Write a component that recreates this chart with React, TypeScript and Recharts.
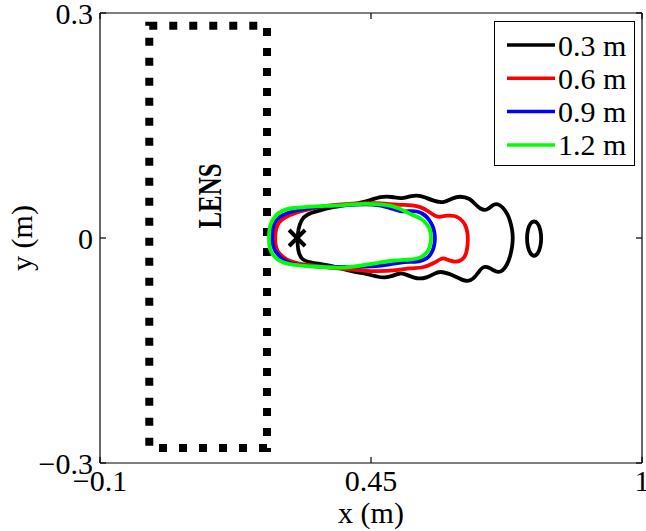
import React from 'react';
import {
  ComposedChart, Scatter, XAxis, YAxis, ReferenceArea,
} from 'recharts';

// ---- data ----
const xTicks = [-0.1, 0.45, 1];
const yTicks = [-0.3, 0, 0.3];
const xDomain = [-0.1, 1];
const yDomain = [-0.3, 0.3];

const seriesNames = ['0.3 m', '0.6 m', '0.9 m', '1.2 m'];

// 0.3 m contour (main loop)
const contour03 = [
  [0.301, 0], [0.302, 0.011], [0.308, 0.024], [0.320, 0.032], [0.342, 0.036], [0.371, 0.041],
  [0.403, 0.044], [0.438, 0.048], [0.472, 0.056], [0.493, 0.055], [0.512, 0.052], [0.529, 0.056],
  [0.549, 0.057], [0.564, 0.053], [0.576, 0.050], [0.596, 0.046], [0.614, 0.053], [0.631, 0.056],
  [0.651, 0.053], [0.663, 0.044], [0.671, 0.039], [0.685, 0.036], [0.698, 0.045], [0.706, 0.046],
  [0.718, 0.041], [0.727, 0.032], [0.732, 0.024], [0.737, 0.010], [0.738, 0],
  [0.737, -0.010], [0.733, -0.024], [0.726, -0.036], [0.717, -0.044], [0.708, -0.046], [0.698, -0.043],
  [0.692, -0.040], [0.677, -0.037], [0.667, -0.047], [0.657, -0.055], [0.646, -0.058], [0.635, -0.056],
  [0.620, -0.051], [0.610, -0.048], [0.590, -0.044], [0.577, -0.048], [0.564, -0.053], [0.543, -0.055],
  [0.523, -0.049], [0.509, -0.046], [0.493, -0.051], [0.478, -0.053], [0.464, -0.052], [0.438, -0.047],
  [0.411, -0.045], [0.383, -0.039], [0.351, -0.035], [0.322, -0.032], [0.310, -0.029], [0.303, -0.020],
  [0.301, -0.010],
];
// 0.3 m contour (small island on the right)
const contour03b = [
  [0.781, 0.023], [0.789, 0.020], [0.794, 0.011], [0.796, 0], [0.794, -0.012], [0.789, -0.021],
  [0.781, -0.025], [0.773, -0.021], [0.768, -0.012], [0.766, 0], [0.768, 0.011], [0.773, 0.020],
];
const contour06 = [
  [0.255, 0], [0.257, 0.013], [0.263, 0.021], [0.271, 0.026], [0.296, 0.034], [0.336, 0.040],
  [0.371, 0.044], [0.411, 0.046], [0.458, 0.047], [0.505, 0.044], [0.535, 0.044], [0.552, 0.041],
  [0.564, 0.037], [0.584, 0.027], [0.596, 0.029], [0.604, 0.030], [0.620, 0.030], [0.631, 0.026],
  [0.641, 0.019], [0.646, 0.008], [0.647, -0.002], [0.645, -0.018], [0.639, -0.027], [0.630, -0.031],
  [0.618, -0.032], [0.605, -0.029], [0.596, -0.026], [0.586, -0.030], [0.576, -0.034], [0.556, -0.040],
  [0.529, -0.040], [0.505, -0.043], [0.458, -0.045], [0.411, -0.042], [0.371, -0.040], [0.336, -0.037],
  [0.302, -0.034], [0.285, -0.031], [0.275, -0.027], [0.264, -0.021], [0.259, -0.016], [0.256, -0.008],
];
const contour09 = [
  [0.249, 0], [0.250, 0.012], [0.254, 0.021], [0.261, 0.027], [0.282, 0.035], [0.330, 0.041],
  [0.397, 0.044], [0.458, 0.046], [0.490, 0.040], [0.509, 0.035], [0.530, 0.036], [0.543, 0.036],
  [0.556, 0.032], [0.564, 0.028], [0.572, 0.020], [0.576, 0.015], [0.579, 0.007], [0.580, 0],
  [0.579, -0.008], [0.576, -0.016], [0.570, -0.023], [0.564, -0.027], [0.554, -0.030], [0.543, -0.032],
  [0.509, -0.032], [0.485, -0.036], [0.458, -0.038], [0.397, -0.039], [0.330, -0.038], [0.290, -0.035],
  [0.273, -0.030], [0.265, -0.025], [0.256, -0.018], [0.252, -0.012], [0.250, -0.006],
];
const contour12 = [
  [0.243, 0], [0.243, 0.006], [0.244, 0.013], [0.247, 0.020], [0.253, 0.027], [0.261, 0.033],
  [0.275, 0.038], [0.290, 0.040], [0.330, 0.042], [0.371, 0.043], [0.397, 0.044], [0.438, 0.046],
  [0.470, 0.045], [0.493, 0.043], [0.513, 0.038], [0.529, 0.032], [0.545, 0.028], [0.556, 0.024],
  [0.565, 0.017], [0.570, 0.011], [0.572, 0.003], [0.572, -0.003], [0.570, -0.010], [0.567, -0.016],
  [0.561, -0.021], [0.554, -0.025], [0.542, -0.028], [0.529, -0.029], [0.493, -0.030], [0.465, -0.033],
  [0.438, -0.036], [0.405, -0.039], [0.383, -0.040], [0.336, -0.038], [0.290, -0.036], [0.272, -0.033],
  [0.261, -0.029], [0.252, -0.024], [0.247, -0.018], [0.244, -0.012], [0.243, -0.006],
];

// lens outline (x range, y range)
const lensX = [0.0, 0.239];
const lensY = [-0.28, 0.283];
const lensLabel = [{ x: 0.123, y: 0.056, text: 'LENS' }];
// source marker
const sourcePoint = [{ x: 0.3, y: 0 }];

// ---- styles ----
const FONT = "'Liberation Serif', 'Times New Roman', Times, serif";
const FS = 30;
const seriesColors = ['#000000', '#ff0000', '#0000ff', '#00ff00'];
const W = 646;
const H = 531;

const toPts = (arr: number[][]) => arr.map(([x, y]) => ({ x, y }));
const contourSets = [
  { name: seriesNames[0], color: seriesColors[0], parts: [contour03, contour03b] },
  { name: seriesNames[1], color: seriesColors[1], parts: [contour06] },
  { name: seriesNames[2], color: seriesColors[2], parts: [contour09] },
  { name: seriesNames[3], color: seriesColors[3], parts: [contour12] },
];

const fmt = (v: number) => (v < 0 ? '\u2212' + String(Math.abs(v)) : String(v));
const NoTick = () => <g />;
const NoShape = () => <g />;

const XMark = (props: any) => {
  const { cx, cy } = props;
  const s = 8;
  return (
    <g stroke="#000" strokeWidth={4}>
      <line x1={cx - s} y1={cy - s} x2={cx + s} y2={cy + s} />
      <line x1={cx - s} y1={cy + s} x2={cx + s} y2={cy - s} />
    </g>
  );
};

const LensText = (props: any) => {
  const { cx, cy, payload } = props;
  return (
    <text
      x={cx}
      y={cy}
      transform={`rotate(-90 ${cx} ${cy})`}
      textAnchor="middle"
      dominantBaseline="central"
      fontFamily={FONT}
      fontWeight="bold"
      fontSize={34}
      textLength={65}
      lengthAdjust="spacingAndGlyphs"
      fill="#000"
    >
      {payload.text}
    </text>
  );
};

const YLabel = (props: any) => {
  const vb = props.viewBox || {};
  const cx = (vb.x || 0) + 21;
  const cy = (vb.y || 0) + (vb.height || 0) / 2;
  return (
    <text
      x={cx}
      y={cy}
      transform={`rotate(-90 ${cx} ${cy})`}
      textAnchor="middle"
      dominantBaseline="central"
      fontFamily={FONT}
      fontSize={FS}
      fill="#000"
    >
      y (m)
    </text>
  );
};

const Legend = () => (
  <div
    style={{
      position: 'absolute',
      left: 494,
      top: 21,
      width: 141,
      height: 145,
      boxSizing: 'border-box',
      border: '1px solid #000',
      background: '#fff',
    }}
  >
    <svg width={139} height={143} style={{ display: 'block' }}>
      {seriesNames.map((n, i) => (
        <g key={n}>
          <line
            x1={12}
            x2={60}
            y1={23 + i * 33.3}
            y2={23 + i * 33.3}
            stroke={seriesColors[i]}
            strokeWidth={3.5}
          />
          <text
            x={63}
            y={23 + i * 33.3}
            dominantBaseline="central"
            fontFamily={FONT}
            fontSize={FS}
            fill="#000"
          >
            {n}
          </text>
        </g>
      ))}
    </svg>
  </div>
);

export default function App() {
  const tickStyle = { fill: '#000', fontSize: FS, fontFamily: FONT };
  return (
    <div style={{ position: 'absolute', left: 0, top: 0, width: W, height: H, background: '#fff' }}>
      <ComposedChart
        width={W}
        height={H}
        margin={{ top: 12, right: 3, bottom: 0, left: 0 }}
      >
        <XAxis
          xAxisId={0}
          type="number"
          dataKey="x"
          domain={xDomain}
          ticks={xTicks}
          allowDataOverflow
          height={68}
          tickSize={-6}
          tickMargin={13}
          tickFormatter={fmt}
          tick={tickStyle}
          stroke="#000"
          strokeWidth={1.2}
          interval={0}
          label={{
            value: 'x (m)',
            position: 'insideBottom',
            offset: 8,
            style: { fontFamily: FONT, fontSize: FS, fill: '#000' },
          }}
        />
        <XAxis
          xAxisId="top"
          orientation="top"
          type="number"
          dataKey="x"
          domain={xDomain}
          ticks={xTicks}
          allowDataOverflow
          height={1}
          tickSize={-6}
          tick={NoTick}
          stroke="#000"
          strokeWidth={1.2}
          interval={0}
        />
        <YAxis
          yAxisId={0}
          type="number"
          dataKey="y"
          domain={yDomain}
          ticks={yTicks}
          allowDataOverflow
          width={100}
          tickSize={-6}
          tickMargin={13}
          tickFormatter={fmt}
          tick={tickStyle}
          stroke="#000"
          strokeWidth={1.2}
          interval={0}
          label={{ content: YLabel }}
        />
        <YAxis
          yAxisId="right"
          orientation="right"
          type="number"
          dataKey="y"
          domain={yDomain}
          ticks={yTicks}
          allowDataOverflow
          width={1}
          tickSize={-6}
          tick={NoTick}
          stroke="#000"
          strokeWidth={1.2}
          interval={0}
        />
        <ReferenceArea
          x1={lensX[0]}
          x2={lensX[1]}
          y1={lensY[0]}
          y2={lensY[1]}
          fill="none"
          fillOpacity={0}
          stroke="#000"
          strokeWidth={8}
          strokeDasharray="8 12"
          ifOverflow="extendDomain"
        />
        {contourSets.map((s) =>
          s.parts.map((part, j) => (
            <Scatter
              key={s.name + j}
              name={s.name}
              data={toPts(part)}
              fill="none"
              line={{ stroke: s.color, strokeWidth: 3.8 }}
              lineJointType="basisClosed"
              shape={NoShape}
              isAnimationActive={false}
            />
          ))
        )}
        <Scatter data={sourcePoint} shape={XMark} isAnimationActive={false} />
        <Scatter data={lensLabel} shape={LensText} isAnimationActive={false} />
      </ComposedChart>
      <Legend />
    </div>
  );
}
